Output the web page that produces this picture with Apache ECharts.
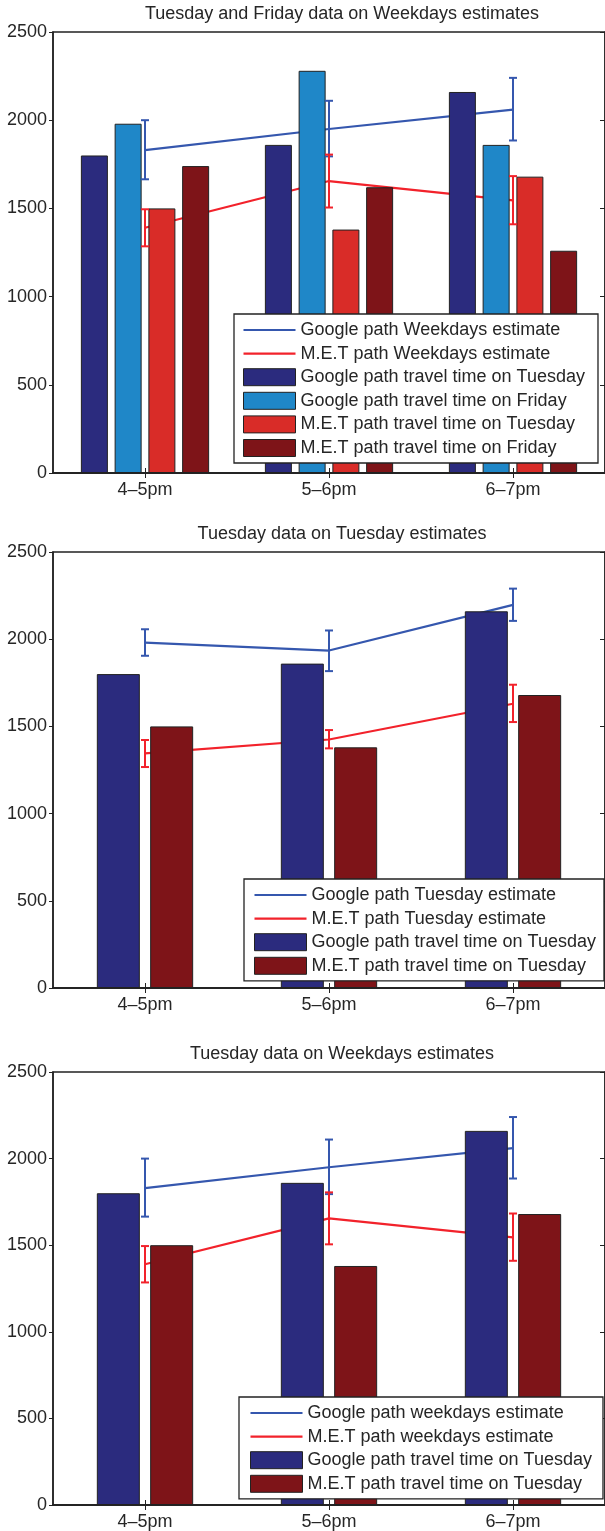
<!DOCTYPE html>
<html>
<head>
<meta charset="utf-8">
<script src="https://cdn.jsdelivr.net/npm/echarts@6/dist/echarts.min.js"></script>
<style>
html,body{margin:0;padding:0;background:#fff;}
#c{width:605px;height:1531px;}
</style>
</head>
<body>
<div id="c"></div>
<script>
// ---------- data ----------
const categories = ['4–5pm', '5–6pm', '6–7pm'];
const yTicks = [0, 500, 1000, 1500, 2000, 2500];

const titles = [
  'Tuesday and Friday data on Weekdays estimates',
  'Tuesday data on Tuesday estimates',
  'Tuesday data on Weekdays estimates'
];

// measured travel times (bars)
const googleTuesday = [1800, 1860, 2160];
const googleFriday  = [1980, 2280, 1860];
const metTuesday    = [1500, 1380, 1680];
const metFriday     = [1740, 1620, 1260];

// estimates (lines) with error-bar bounds
const googleWeekdaysEst  = [1830, 1950, 2060];
const googleWeekdaysLow  = [1665, 1795, 1885];
const googleWeekdaysHigh = [2000, 2110, 2240];
const metWeekdaysEst  = [1390, 1655, 1545];
const metWeekdaysLow  = [1285, 1505, 1410];
const metWeekdaysHigh = [1495, 1805, 1683];

const googleTuesdayEst  = [1980, 1935, 2197];
const googleTuesdayLow  = [1905, 1817, 2105];
const googleTuesdayHigh = [2057, 2050, 2290];
const metTuesdayEst  = [1345, 1425, 1630];
const metTuesdayLow  = [1267, 1374, 1525];
const metTuesdayHigh = [1422, 1479, 1739];

// ---------- styles ----------
const FONT = '"Liberation Sans", Arial, Helvetica, sans-serif';
const TXT = '#262626';
const FS = 18;
const C_NAVY = '#2b2b7e';
const C_LBLUE = '#1f87c8';
const C_RED = '#d92c28';
const C_DRED = '#7e1418';
const C_LBLUE_LINE = '#3557ae';
const C_RED_LINE = '#f2222b';

const grids = [
  {left: 53, top: 32, width: 555, height: 441},
  {left: 53, top: 552, width: 555, height: 436},
  {left: 53, top: 1072, width: 555, height: 436}
];

const xAxes = [], yAxes = [], series = [], legends = [], titleComps = [];

grids.forEach((g, i) => {
  xAxes.push({
    type: 'category', gridIndex: i, data: categories, position: 'bottom', z: 10,
    axisLine: {show: true, lineStyle: {color: '#222', width: 1.5}},
    axisTick: {show: true, inside: true, alignWithLabel: true, length: 5, lineStyle: {color: '#222', width: 1}},
    axisLabel: {fontFamily: FONT, fontSize: FS, color: TXT, margin: 8},
    splitLine: {show: false}
  });
  xAxes.push({
    type: 'category', gridIndex: i, data: categories, position: 'top', z: 10,
    axisLine: {show: true, lineStyle: {color: '#222', width: 1.5}},
    axisTick: {show: true, inside: true, alignWithLabel: true, length: 5, lineStyle: {color: '#222', width: 1}},
    axisLabel: {show: false}, splitLine: {show: false}
  });
  yAxes.push({
    type: 'value', gridIndex: i, min: yTicks[0], max: yTicks[yTicks.length - 1], interval: yTicks[1] - yTicks[0],
    position: 'left', z: 10,
    axisLine: {show: true, lineStyle: {color: '#222', width: 1.5}},
    axisTick: {show: true, inside: false, length: 4, lineStyle: {color: '#222', width: 1}},
    axisLabel: {fontFamily: FONT, fontSize: FS, color: TXT, margin: 6, formatter: v => String(v)},
    splitLine: {show: false}
  });
  yAxes.push({
    type: 'value', gridIndex: i, min: yTicks[0], max: yTicks[yTicks.length - 1], interval: yTicks[1] - yTicks[0],
    position: 'right', z: 10,
    axisLine: {show: true, lineStyle: {color: '#222', width: 1.5}},
    axisTick: {show: true, inside: true, length: 5, lineStyle: {color: '#222', width: 1}},
    axisLabel: {show: false}, splitLine: {show: false}
  });
  titleComps.push({
    text: titles[i], left: 342, top: g.top - 27, textAlign: 'center', padding: 0,
    textStyle: {fontFamily: FONT, fontSize: FS, fontWeight: 'normal', color: TXT}
  });
});

function errorBarSeries(gi, low, high, color) {
  const data = low.map((v, k) => [k, v, high[k]]);
  return {
    type: 'custom', xAxisIndex: gi * 2, yAxisIndex: gi * 2, z: 5, silent: true,
    data: data,
    renderItem: function (params, api) {
      const idx = api.value(0);
      const p1 = api.coord([idx, api.value(1)]);
      const p2 = api.coord([idx, api.value(2)]);
      const x = p1[0], hw = 4;
      const st = {stroke: color, lineWidth: 2};
      return {
        type: 'group',
        children: [
          {type: 'line', shape: {x1: x, y1: p1[1], x2: x, y2: p2[1]}, style: st},
          {type: 'line', shape: {x1: x - hw, y1: p1[1], x2: x + hw, y2: p1[1]}, style: st},
          {type: 'line', shape: {x1: x - hw, y1: p2[1], x2: x + hw, y2: p2[1]}, style: st}
        ]
      };
    }
  };
}
function lineSeries(gi, name, data, color) {
  return {
    type: 'line', name: name, xAxisIndex: gi * 2, yAxisIndex: gi * 2, z: 1,
    data: data, symbol: 'none', showSymbol: false, silent: true,
    lineStyle: {color: color, width: 2.2}, itemStyle: {color: color}
  };
}
function barSeries(gi, name, data, color, w, gap) {
  return {
    type: 'bar', name: name, xAxisIndex: gi * 2, yAxisIndex: gi * 2, z: 2,
    data: data, barWidth: w, barGap: gap, silent: true,
    itemStyle: {color: color, borderColor: '#222', borderWidth: 1}
  };
}

// ---- chart 1 ----
series.push(lineSeries(0, 'Google path Weekdays estimate', googleWeekdaysEst, C_LBLUE_LINE));
series.push(lineSeries(0, 'M.E.T path Weekdays estimate', metWeekdaysEst, C_RED_LINE));
series.push(barSeries(0, 'Google path travel time on Tuesday', googleTuesday, C_NAVY, 27, '25%'));
series.push(barSeries(0, 'Google path travel time on Friday', googleFriday, C_LBLUE, 27, '25%'));
series.push(barSeries(0, 'M.E.T path travel time on Tuesday', metTuesday, C_RED, 27, '25%'));
series.push(barSeries(0, 'M.E.T path travel time on Friday', metFriday, C_DRED, 27, '25%'));
series.push(errorBarSeries(0, googleWeekdaysLow, googleWeekdaysHigh, C_LBLUE_LINE));
series.push(errorBarSeries(0, metWeekdaysLow, metWeekdaysHigh, C_RED_LINE));

// ---- chart 2 ----
series.push(lineSeries(1, 'Google path Tuesday estimate', googleTuesdayEst, C_LBLUE_LINE));
series.push(lineSeries(1, 'M.E.T path Tuesday estimate', metTuesdayEst, C_RED_LINE));
series.push(barSeries(1, 'Google path travel time on Tuesday', googleTuesday, C_NAVY, 43, '24%'));
series.push(barSeries(1, 'M.E.T path travel time on Tuesday ', metTuesday, C_DRED, 43, '24%'));
series.push(errorBarSeries(1, googleTuesdayLow, googleTuesdayHigh, C_LBLUE_LINE));
series.push(errorBarSeries(1, metTuesdayLow, metTuesdayHigh, C_RED_LINE));

// ---- chart 3 ----
series.push(lineSeries(2, 'Google path weekdays estimate', googleWeekdaysEst, C_LBLUE_LINE));
series.push(lineSeries(2, 'M.E.T path weekdays estimate', metWeekdaysEst, C_RED_LINE));
series.push(barSeries(2, 'Google path travel time on Tuesday', googleTuesday, C_NAVY, 43, '24%'));
series.push(barSeries(2, 'M.E.T path travel time on Tuesday ', metTuesday, C_DRED, 43, '24%'));
series.push(errorBarSeries(2, googleWeekdaysLow, googleWeekdaysHigh, C_LBLUE_LINE));
series.push(errorBarSeries(2, metWeekdaysLow, metWeekdaysHigh, C_RED_LINE));

// thin horizontal line icon, padded so its bounding box is the full icon area
const LINE_ICON = 'path://M0,0M52,17M0,7.4H52V9.6H0Z';

function legendComp(left, top, padLeft, padRight, lines, bars) {
  const data = [];
  lines.forEach(l => data.push({name: l[0], icon: LINE_ICON, itemStyle: {color: l[1], borderWidth: 0}}));
  bars.forEach(n => data.push({name: n, icon: 'rect', itemStyle: {borderColor: '#222', borderWidth: 1}}));
  return {
    orient: 'vertical', left: left, top: top, z: 20,
    backgroundColor: '#fff', borderColor: '#222', borderWidth: 1.3, borderRadius: 0,
    padding: [7, padRight, 6, padLeft], itemGap: 5.6, itemWidth: 52, itemHeight: 17,
    selectedMode: false,
    textStyle: {fontFamily: FONT, fontSize: FS, color: TXT, lineHeight: 17},
    data: data
  };
}
legends.push(legendComp(234, 314, 9, 13,
  [['Google path Weekdays estimate', C_LBLUE_LINE], ['M.E.T path Weekdays estimate', C_RED_LINE]],
  ['Google path travel time on Tuesday', 'Google path travel time on Friday',
   'M.E.T path travel time on Tuesday', 'M.E.T path travel time on Friday']));
legends.push(legendComp(244, 879, 10, 8,
  [['Google path Tuesday estimate', C_LBLUE_LINE], ['M.E.T path Tuesday estimate', C_RED_LINE]],
  ['Google path travel time on Tuesday', 'M.E.T path travel time on Tuesday ']));
legends.push(legendComp(239, 1397, 11, 11,
  [['Google path weekdays estimate', C_LBLUE_LINE], ['M.E.T path weekdays estimate', C_RED_LINE]],
  ['Google path travel time on Tuesday', 'M.E.T path travel time on Tuesday ']));

const chart = echarts.init(document.getElementById('c'), null, {renderer: 'canvas'});
chart.setOption({
  animation: false,
  backgroundColor: '#fff',
  title: titleComps,
  grid: grids.map(g => Object.assign({show: true, borderColor: '#222', borderWidth: 1.5, backgroundColor: 'transparent'}, g)),
  xAxis: xAxes,
  yAxis: yAxes,
  legend: legends,
  series: series
});
</script>
</body>
</html>
